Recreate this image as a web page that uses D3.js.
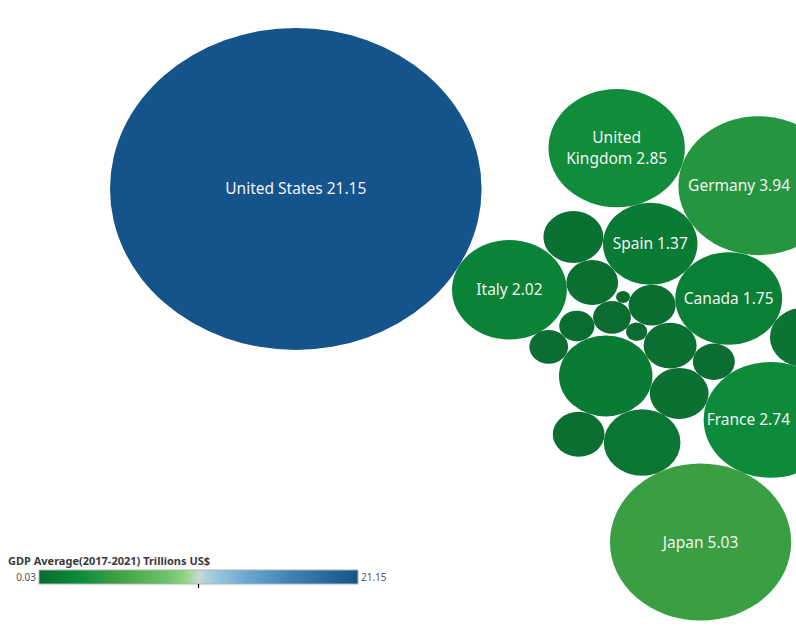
<!DOCTYPE html>
<html>
<head>
<meta charset="utf-8">
<script src="https://cdn.jsdelivr.net/npm/d3@7"></script>
<style>
  body { margin: 0; background: #fff; }
  svg { display: block; font-family: "Noto Sans", "Open Sans", sans-serif; }
</style>
</head>
<body>
<svg id="bubbles" width="796" height="626"></svg>
<script>
// ----- data -----
const countries = ["United States", "Japan", "Germany", "United Kingdom", "France", "Italy", "Canada", "Spain",
                   "Australia", "Netherlands", "Switzerland", "Poland", "Sweden", "Belgium", "Ireland", "Austria",
                   "Norway", "Denmark", "Finland", "Portugal", "Greece", "Luxembourg", "Estonia"];
const gdpAvg = [21.15, 5.03, 3.94, 2.85, 2.74, 2.02, 1.75, 1.37,
                1.34, 0.90, 0.72, 0.55, 0.53, 0.43, 0.41, 0.41,
                0.34, 0.27, 0.23, 0.22, 0.19, 0.07, 0.03];
const legendTicks = ["0.03", "21.15"];
const legendTitle = "GDP Average(2017-2021) Trillions US$";

// order in which the smaller bubbles get packed around the first one
const packOrder = ["Belgium", "Denmark", "Sweden", "Canada", "Norway", "Australia", "Spain", "Luxembourg",
                   "Portugal", "Netherlands", "France", "Ireland", "Japan", "Germany", "Greece", "Estonia",
                   "Austria", "Switzerland", "Finland", "Poland", "Italy", "United Kingdom"];

// ----- layout settings -----
const W = 796, H = 626;
const kx = 40.4, ky = 35;              // px per layout unit (bubbles drawn a bit wider than tall)
const firstAngle = 23 * Math.PI / 180; // direction of the second bubble from the first
const squash = 0.75;                   // makes the cluster grow more up/down than sideways
const bigAngle = Math.PI + 0.45;       // side of the cluster the biggest bubble sits on

const svg = d3.select("svg#bubbles");

const [vMin, vMax] = d3.extent(gdpAvg);
const rScale = d3.scaleSqrt().domain([0, vMax]).range([0, Math.sqrt(vMax)]);

const colorStops = [0, 0.12, 0.25, 0.40, 0.46, 0.5, 0.54, 0.65, 0.80, 1];
const colorRange = ["#0b6a30", "#0a8a3a", "#40a144", "#6cc36a", "#92d582", "#c9d8d0",
                    "#a0cde1", "#6aa9d1", "#3d7eb3", "#14548a"];
const color = d3.scaleLinear()
    .domain(colorStops.map(t => vMin + t * (vMax - vMin)))
    .range(colorRange);

let nodes = countries.map((c, i) => ({ name: c, value: gdpAvg[i], r: rScale(gdpAvg[i]) }));
const byName = new Map(nodes.map(d => [d.name, d]));
const big = d3.greatest(nodes, d => d.value);
const rest = packOrder.map(n => byName.get(n));

// greedy packing: each bubble goes to the free spot touching two others that is closest to the start
function pack(list) {
    const placed = [];
    list.forEach((c, i) => {
        if (i === 0) { c.x = 0; c.y = 0; }
        else if (i === 1) {
            const s = placed[0].r + c.r;
            c.x = s * Math.cos(firstAngle);
            c.y = s * Math.sin(firstAngle);
        } else {
            let best = null;
            for (let p = 0; p < placed.length; p++) {
                for (let q = p + 1; q < placed.length; q++) {
                    const a = placed[p], b = placed[q];
                    const ra = a.r + c.r, rb = b.r + c.r;
                    const dx = b.x - a.x, dy = b.y - a.y, d = Math.hypot(dx, dy);
                    if (d > ra + rb || d < Math.abs(ra - rb) || d === 0) continue;
                    const l = (ra * ra - rb * rb + d * d) / (2 * d);
                    const h = Math.sqrt(Math.max(0, ra * ra - l * l));
                    const mx = a.x + l * dx / d, my = a.y + l * dy / d;
                    [[mx - h * dy / d, my + h * dx / d], [mx + h * dy / d, my - h * dx / d]].forEach(([px, py]) => {
                        if (placed.some(o => Math.hypot(o.x - px, o.y - py) < o.r + c.r - 1e-7)) return;
                        if (i === 2 && placed[1].x * py - placed[1].y * px < 0) return;
                        const s = px * px + (py * squash) ** 2;
                        if (!best || s < best.s) best = { s, px, py };
                    });
                }
            }
            c.x = best.px;
            c.y = best.py;
        }
        placed.push(c);
    });
}
pack(rest);

// slide the biggest bubble in until it touches the cluster
const ux = Math.cos(bigAngle), uy = Math.sin(bigAngle);
let dist = 0;
rest.forEach(d => {
    const b = d.x * ux + d.y * uy;
    const c = d.x * d.x + d.y * d.y - (big.r + d.r) ** 2;
    const disc = b * b - c;
    if (disc >= 0) dist = Math.max(dist, b + Math.sqrt(disc));
});
big.x = ux * dist;
big.y = uy * dist;

// scales
const xMin = d3.min(nodes, d => d.x - d.r), xMax = d3.max(nodes, d => d.x + d.r);
const yMin = d3.min(nodes, d => d.y - d.r), yMax = d3.max(nodes, d => d.y + d.r);
const x = d3.scaleLinear().domain([xMin, xMax]).range([110, 110 + (xMax - xMin) * kx]);
const y = d3.scaleLinear().domain([yMin, yMax]).range([28, 28 + (yMax - yMin) * ky]);

const bubbleArea = svg.append("g").attr("class", "bubbles");

bubbleArea.selectAll("ellipse.bubble")
    .data(nodes)
    .join("ellipse")
    .attr("class", "bubble")
    .attr("cx", d => x(d.x))
    .attr("cy", d => y(d.y))
    .attr("rx", d => x(d.x + d.r) - x(d.x))
    .attr("ry", d => y(d.y + d.r) - y(d.y))
    .attr("fill", d => color(d.value));

// labels on the biggest eight, wrapped in two lines when too wide
const fmt = d3.format(".2f");
const labelled = d3.sort(nodes, d => -d.value).slice(0, 8);

const labels = bubbleArea.selectAll("text.label")
    .data(labelled)
    .join("text")
    .attr("class", "label")
    .attr("y", d => y(d.y))
    .attr("text-anchor", "middle")
    .attr("fill", "#f2f2f2")
    .attr("font-size", 15.5);

labels.each(function(d) {
    const t = d3.select(this);
    const full = d.name + " " + fmt(d.value);
    const room = (x(d.x + d.r) - x(d.x)) * 2 * 0.92;
    t.text(full);
    let lines = [full];
    let w = this.getComputedTextLength();
    if (w > room) {
        const words = full.split(" ");
        let best = null;
        for (let i = 1; i < words.length; i++) {
            const a = words.slice(0, i).join(" "), b = words.slice(i).join(" ");
            t.text(a); const wa = this.getComputedTextLength();
            t.text(b); const wb = this.getComputedTextLength();
            const m = Math.max(wa, wb);
            if (!best || m < best.w) best = { w: m, lines: [a, b] };
        }
        lines = best.lines;
        w = best.w;
    }
    // keep the text inside the picture
    const cx = Math.min(x(d.x), W - w / 2 - 6);
    t.text(null).attr("x", cx);
    lines.forEach((line, i) => {
        t.append("tspan")
            .attr("x", cx)
            .attr("dy", lines.length === 1 ? "0.35em" : (i === 0 ? "-0.3em" : "1.3em"))
            .text(line);
    });
});

// ----- legend -----
const legend = svg.append("g").attr("class", "legend");
const lx = d3.scaleLinear().domain([vMin, vMax]).range([39, 358]);

const grad = svg.append("defs").append("linearGradient")
    .attr("id", "gdpGrad")
    .attr("x1", "0%").attr("x2", "100%");
grad.selectAll("stop")
    .data(colorStops)
    .join("stop")
    .attr("offset", d => (d * 100) + "%")
    .attr("stop-color", (d, i) => colorRange[i]);

legend.append("text")
    .attr("x", 8)
    .attr("y", 565)
    .attr("font-size", 11)
    .attr("font-weight", "bold")
    .attr("fill", "#3a3a3a")
    .text(legendTitle);

legend.append("rect")
    .attr("x", lx(vMin))
    .attr("y", 570)
    .attr("width", lx(vMax) - lx(vMin))
    .attr("height", 14)
    .attr("fill", "url(#gdpGrad)")
    .attr("stroke", "#b0b0b0")
    .attr("stroke-width", 1);

legend.append("line")
    .attr("x1", lx((vMin + vMax) / 2)).attr("x2", lx((vMin + vMax) / 2))
    .attr("y1", 584).attr("y2", 588)
    .attr("stroke", "#000")
    .attr("stroke-width", 1.2);

legend.append("text")
    .attr("x", lx(vMin) - 3)
    .attr("y", 581)
    .attr("text-anchor", "end")
    .attr("font-size", 10)
    .attr("fill", "#555")
    .text(legendTicks[0]);

legend.append("text")
    .attr("x", lx(vMax) + 3)
    .attr("y", 581)
    .attr("font-size", 10)
    .attr("fill", "#555")
    .text(legendTicks[1]);
</script>
</body>
</html>
